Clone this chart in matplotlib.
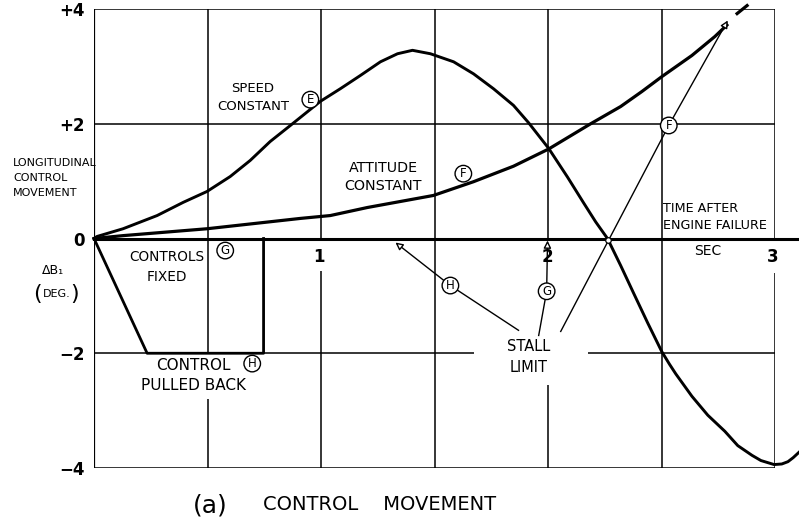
import matplotlib.pyplot as plt

plt.rcParams['font.family'] = ['DejaVu Sans']

# curve E: speed constant (time in sec, control movement in deg)
t_speed = [0, 0.013, 0.128, 0.278, 0.393, 0.498, 0.600, 0.688, 0.776, 0.865, 0.953,
           0.997, 1.085, 1.173, 1.262, 1.337, 1.403, 1.482, 1.584, 1.672, 1.760,
           1.848, 1.914, 2.003, 2.086, 2.157, 2.210, 2.262, 2.320, 2.378, 2.439,
           2.501, 2.535, 2.563, 2.634, 2.704, 2.779, 2.836, 2.899, 2.938, 2.996,
           3.030, 3.057, 3.080, 3.11]
db_speed = [0, 0.035, 0.17, 0.40, 0.63, 0.82, 1.08, 1.36, 1.69, 1.97, 2.25,
            2.39, 2.61, 2.84, 3.08, 3.22, 3.28, 3.22, 3.08, 2.87, 2.61,
            2.32, 2.02, 1.57, 1.07, 0.62, 0.29, 0, -0.47, -0.96, -1.47,
            -1.97, -2.19, -2.36, -2.75, -3.08, -3.36, -3.61, -3.78, -3.87, -3.94,
            -3.93, -3.89, -3.82, -3.71]

# curve F: attitude constant
t_att = [0, 0.128, 0.498, 0.909, 1.041, 1.204, 1.495, 1.672, 1.848, 2.003, 2.188,
         2.320, 2.413, 2.501, 2.634, 2.735, 2.788]
db_att = [0, 0.05, 0.17, 0.35, 0.40, 0.54, 0.75, 0.99, 1.26, 1.56, 2.0,
          2.3, 2.56, 2.82, 3.19, 3.52, 3.72]
t_att_end = [2.833, 2.877]
db_att_end = [3.92, 4.06]

# curve H: control pulled back
t_pull = [0, 0.234, 0.747, 0.747]
db_pull = [0, -2, -2, 0]

# stall limit points (H, G, E/F)
stall_h = (1.328, -0.07)
stall_g = (1.998, -0.035)
stall_e = (2.263, -0.02)
stall_f = (2.792, 3.80)

y_ticks = [-4, -2, 0, 2, 4]
y_labels = ['\u22124', '\u22122', '0', '+2', '+4']
x_labels = ['1', '2', '3']
x_label_pos = [0.993, 1.998, 2.99]

fig = plt.figure(figsize=(7.99, 5.24), dpi=100)
ax = fig.add_axes([94 / 799, 56 / 524, 681 / 799, 459 / 524])
ax.set_xlim(0, 3)
ax.set_ylim(-4, 4)
for s in ax.spines.values():
    s.set_visible(False)
ax.set_xticks([])
ax.set_yticks(y_ticks, labels=y_labels, fontsize=12, fontweight='bold')
ax.tick_params(axis='y', length=0, pad=7)

# grid and frame, with the gaps of the original drawing
gw = 1.1
ax.vlines(0, -4, 4, color='black', lw=1.6)
ax.hlines([4, 2, -4], 0, 3, color='black', lw=gw)
ax.hlines(-2, 0, 1.672, color='black', lw=gw)
ax.hlines(-2, 2.175, 3, color='black', lw=gw)
ax.vlines(0.5, -2, 4, color='black', lw=gw)
ax.vlines(0.5, -4, -2.79, color='black', lw=gw)
ax.vlines(1.0, 0, 4, color='black', lw=gw)
ax.vlines(1.0, -4, -0.57, color='black', lw=gw)
ax.vlines(1.5, -4, 4, color='black', lw=gw)
ax.vlines(2.0, 0, 4, color='black', lw=gw)
ax.vlines(2.0, -4, -2.56, color='black', lw=gw)
ax.vlines(2.5, -4, 4, color='black', lw=gw)
ax.vlines(3.0, 0, 4, color='black', lw=gw)
ax.vlines(3.0, -4, -0.61, color='black', lw=gw)
ax.plot([0, 3.1], [0, 0], color='black', lw=2.2, clip_on=False, zorder=3)

# curves
ax.plot(t_speed, db_speed, color='black', lw=2.1, clip_on=False, zorder=3,
        solid_joinstyle='round')
ax.plot(t_att, db_att, color='black', lw=2.3, clip_on=False, zorder=3,
        solid_joinstyle='round')
ax.plot(t_att_end, db_att_end, color='black', lw=2.3, clip_on=False, zorder=3)
ax.plot(t_pull, db_pull, color='black', lw=2.0, zorder=3)
ax.plot([stall_e[0]], [stall_e[1]], marker='o', ms=4, mfc='white', mec='black',
        mew=0.9, zorder=5)

# stall limit leader lines
arrow = dict(arrowstyle='-|>', color='black', lw=1.0, fc='white',
             mutation_scale=11, shrinkA=0, shrinkB=0)
ax.plot([1.87, 1.57], [-1.60, -0.82], color='black', lw=1.0)
ax.annotate('', xy=stall_h, xytext=(1.57, -0.82), arrowprops=arrow)
ax.plot([1.959, 1.994], [-1.69, -0.92], color='black', lw=1.0)
ax.annotate('', xy=stall_g, xytext=(1.994, -0.92), arrowprops=arrow)
ax.plot([2.056, 2.532], [-1.62, 1.97], color='black', lw=1.0)
ax.annotate('', xy=stall_f, xytext=(2.532, 1.97), arrowprops=arrow)

# circled letters
circ = dict(boxstyle='circle,pad=0.15', fc='white', ec='black', lw=1.0)
for (cx, cy, lab) in [(0.953, 2.42, 'E'), (1.627, 1.13, 'F'), (2.532, 1.97, 'F'),
                      (0.578, -0.21, 'G'), (0.697, -2.18, 'H'),
                      (1.57, -0.82, 'H'), (1.994, -0.92, 'G')]:
    ax.text(cx, cy, lab, fontsize=8.5, ha='center', va='center', bbox=circ, zorder=6)

# labels
ax.text(0.70, 2.46, 'SPEED\nCONSTANT', fontsize=9.5, ha='center', va='center',
        linespacing=1.5)
ax.text(1.275, 1.07, 'ATTITUDE\nCONSTANT', fontsize=10.3, ha='center', va='center',
        linespacing=1.4)
ax.text(0.32, -0.5, 'CONTROLS\nFIXED', fontsize=9.8, ha='center', va='center',
        linespacing=1.5)
ax.text(0.437, -2.39, 'CONTROL\nPULLED BACK', fontsize=11, ha='center', va='center',
        linespacing=1.4)
ax.text(1.915, -2.07, 'STALL\nLIMIT', fontsize=10.5, ha='center', va='center',
        linespacing=1.5)
ax.text(2.505, 0.38, 'TIME AFTER\nENGINE FAILURE', fontsize=9.2, ha='left',
        va='center', linespacing=1.4)
ax.text(2.704, -0.21, 'SEC', fontsize=10, ha='center', va='center')
for xp, xl in zip(x_label_pos, x_labels):
    ax.text(xp, -0.33, xl, fontsize=12, fontweight='bold', ha='center', va='center')

ax.text(-0.357, 1.05, 'LONGITUDINAL\nCONTROL\nMOVEMENT', fontsize=8, ha='left',
        va='center', linespacing=1.6, clip_on=False)
ax.text(-0.181, -0.56, '\u0394B\u2081', fontsize=9, ha='center', va='center',
        clip_on=False)
ax.text(-0.163, -0.96, 'DEG.', fontsize=8, ha='center', va='center', clip_on=False)
ax.text(-0.251, -0.96, '(', fontsize=16, ha='center', va='center', clip_on=False)
ax.text(-0.084, -0.96, ')', fontsize=16, ha='center', va='center', clip_on=False)

fig.text(210 / 799, 1 - 505 / 524, '(a)', fontsize=18, ha='center', va='center')
fig.text(263 / 799, 1 - 505 / 524, 'CONTROL    MOVEMENT', fontsize=14, ha='left',
         va='center')

fig.savefig('out.png', dpi=100)
